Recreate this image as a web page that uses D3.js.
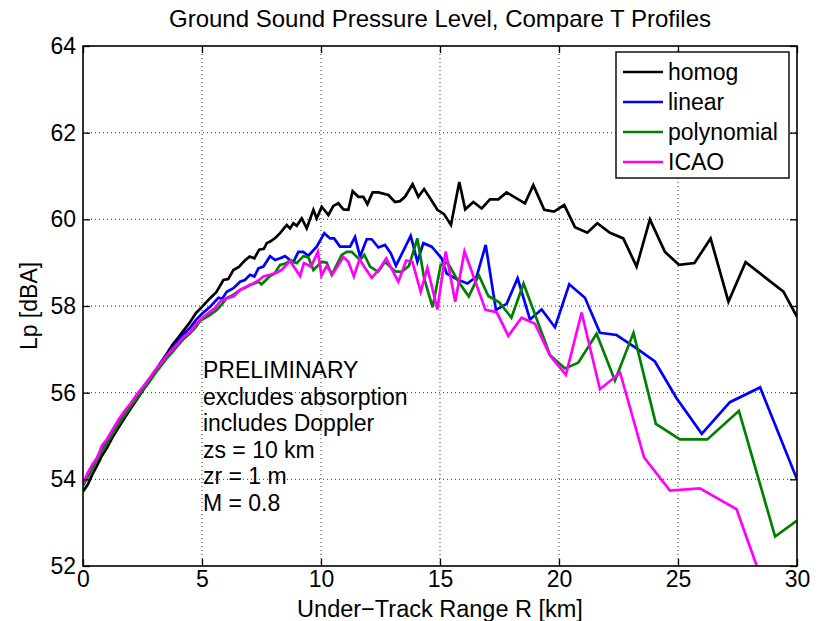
<!DOCTYPE html>
<html>
<head>
<meta charset="utf-8">
<script src="https://cdn.jsdelivr.net/npm/d3@7"></script>
<style>
  body { margin: 0; background: #fff; }
  svg { display: block; }
  text { font-family: "Liberation Sans", Arial, Helvetica, sans-serif; fill: #000; }
</style>
</head>
<body>
<svg id="chart" width="819" height="621"></svg>
<script>
// Under-track range R [km] and ground level Lp [dBA] for each temperature profile
const homogR = [0, 0.2, 0.4, 0.6, 0.8, 1.0, 1.25, 1.5, 1.75, 2.0, 2.25, 2.5, 2.75, 3.0, 3.25, 3.5, 3.75, 4.0, 4.25, 4.5, 4.75, 5.0, 5.34, 5.6, 5.9, 6.1, 6.32, 6.55, 6.8, 7.0, 7.2, 7.4, 7.6, 7.72, 7.9, 8.1, 8.28, 8.56, 8.70, 8.84, 8.98, 9.19, 9.40, 9.68, 9.82, 10.03, 10.31, 10.52, 10.73, 10.94, 11.15, 11.33, 11.57, 11.78, 11.95, 12.17, 12.41, 12.83, 13.11, 13.32, 13.53, 13.85, 14.09, 14.33, 14.58, 14.89, 15.17, 15.46, 15.81, 16.06, 16.40, 16.75, 17.10, 17.45, 17.80, 18.57, 18.92, 19.38, 19.79, 20.22, 20.67, 21.19, 21.61, 22.14, 22.70, 23.26, 23.82, 24.45, 25.04, 25.69, 26.37, 27.12, 27.84, 29.43, 30];
const homogLp = [53.72, 53.88, 54.12, 54.33, 54.55, 54.72, 54.98, 55.2, 55.42, 55.63, 55.83, 56.04, 56.24, 56.47, 56.68, 56.88, 57.1, 57.27, 57.45, 57.63, 57.84, 57.98, 58.18, 58.32, 58.6, 58.62, 58.83, 58.9, 59.05, 59.14, 59.1, 59.3, 59.32, 59.45, 59.5, 59.58, 59.68, 59.87, 59.79, 59.91, 59.85, 60.02, 59.79, 60.22, 60.02, 60.29, 60.10, 60.31, 60.37, 60.23, 60.22, 60.65, 60.52, 60.52, 60.35, 60.62, 60.62, 60.56, 60.40, 60.42, 60.52, 60.81, 60.52, 60.70, 60.49, 60.22, 60.12, 59.87, 60.86, 60.23, 60.40, 60.25, 60.46, 60.46, 60.62, 60.37, 60.79, 60.22, 60.18, 60.33, 59.82, 59.69, 59.91, 59.69, 59.56, 58.91, 60.00, 59.25, 58.95, 58.99, 59.56, 58.10, 59.01, 58.33, 57.75];

const linearR = [0, 0.2, 0.4, 0.6, 0.8, 1.0, 1.25, 1.5, 1.75, 2.0, 2.25, 2.5, 2.75, 3.0, 3.25, 3.5, 3.75, 4.0, 4.25, 4.5, 4.75, 5.0, 5.34, 5.69, 5.85, 6.04, 6.32, 6.6, 6.8, 7.02, 7.2, 7.37, 7.58, 7.86, 8.07, 8.28, 8.49, 8.70, 8.84, 9.05, 9.25, 9.47, 9.82, 10.14, 10.38, 10.55, 10.8, 11.22, 11.43, 11.64, 11.92, 12.13, 12.41, 12.69, 12.93, 13.15, 13.77, 14.05, 14.30, 14.65, 15.07, 15.28, 15.70, 16.15, 16.54, 16.92, 17.35, 17.80, 18.26, 18.78, 19.27, 19.83, 20.43, 21.09, 21.72, 22.42, 23.26, 24.03, 24.94, 26.0, 27.18, 28.45, 30];
const linearLp = [53.9, 54.1, 54.3, 54.5, 54.72, 54.9, 55.12, 55.33, 55.53, 55.72, 55.9, 56.1, 56.28, 56.47, 56.66, 56.85, 57.02, 57.2, 57.36, 57.5, 57.68, 57.82, 57.98, 58.19, 58.17, 58.33, 58.41, 58.56, 58.6, 58.72, 58.68, 58.87, 58.91, 59.15, 59.06, 59.10, 59.15, 59.06, 59.02, 59.25, 59.25, 59.16, 59.37, 59.68, 59.56, 59.56, 59.37, 59.37, 59.59, 59.14, 59.54, 59.54, 59.35, 59.41, 59.22, 58.93, 59.62, 59.02, 59.45, 59.37, 59.10, 58.75, 58.62, 58.52, 58.68, 59.41, 57.91, 58.05, 58.64, 57.69, 57.92, 57.51, 58.50, 58.19, 57.38, 57.33, 57.02, 56.72, 55.87, 55.05, 55.78, 56.12, 54.0];

const polyR = [0, 0.2, 0.4, 0.6, 0.8, 1.0, 1.25, 1.5, 1.75, 2.0, 2.25, 2.5, 2.75, 3.0, 3.25, 3.5, 3.75, 4.0, 4.25, 4.5, 4.75, 4.92, 5.3, 5.62, 5.85, 6.04, 6.3, 6.6, 6.8, 7.02, 7.2, 7.37, 7.5, 7.86, 8.05, 8.28, 8.50, 8.70, 8.98, 9.26, 9.47, 9.68, 10.03, 10.24, 10.45, 10.87, 11.08, 11.29, 11.64, 11.82, 12.06, 12.40, 12.69, 13.11, 13.39, 13.70, 14.05, 14.33, 14.69, 15.03, 15.32, 15.80, 16.21, 16.63, 17.03, 17.50, 18.00, 18.51, 19.62, 20.25, 20.81, 21.58, 22.35, 23.13, 24.07, 25.08, 26.23, 27.56, 29.08, 30];
const polyLp = [53.85, 54.05, 54.25, 54.45, 54.65, 54.83, 55.05, 55.28, 55.48, 55.68, 55.86, 56.05, 56.22, 56.42, 56.6, 56.78, 56.93, 57.1, 57.25, 57.37, 57.52, 57.66, 57.78, 57.91, 58.05, 58.18, 58.25, 58.37, 58.42, 58.49, 58.52, 58.56, 58.5, 58.69, 58.75, 58.95, 58.98, 59.05, 58.99, 59.15, 59.12, 58.83, 59.02, 59.0, 58.72, 59.18, 59.25, 59.25, 59.06, 59.18, 58.91, 58.79, 59.02, 58.80, 58.79, 58.93, 59.56, 58.65, 57.97, 58.95, 59.00, 58.54, 58.22, 58.71, 58.23, 58.08, 57.73, 58.52, 56.87, 56.56, 56.69, 57.36, 56.28, 57.38, 55.28, 54.92, 54.92, 55.58, 52.68, 53.05];

const icaoR = [0, 0.2, 0.4, 0.6, 0.8, 1.0, 1.25, 1.5, 1.75, 2.0, 2.25, 2.5, 2.75, 3.0, 3.25, 3.5, 3.75, 4.0, 4.25, 4.5, 4.75, 5.0, 5.34, 5.55, 5.76, 6.04, 6.32, 6.6, 6.9, 7.16, 7.4, 7.58, 7.86, 8.10, 8.35, 8.70, 9.12, 9.28, 9.58, 9.87, 10.02, 10.24, 10.48, 10.94, 11.15, 11.38, 11.62, 11.81, 12.13, 12.45, 12.74, 13.25, 13.58, 13.84, 14.19, 14.47, 14.89, 15.24, 15.64, 16.03, 16.91, 17.38, 17.87, 18.43, 18.99, 19.62, 20.29, 20.95, 21.72, 22.57, 23.57, 24.66, 25.92, 27.46, 28.7];
const icaoLp = [53.9, 54.15, 54.35, 54.5, 54.78, 54.92, 55.15, 55.38, 55.58, 55.75, 55.95, 56.12, 56.3, 56.5, 56.66, 56.84, 57.0, 57.14, 57.3, 57.4, 57.58, 57.72, 57.87, 57.95, 58.10, 58.18, 58.22, 58.37, 58.45, 58.52, 58.6, 58.68, 58.72, 58.76, 58.83, 59.04, 58.69, 58.99, 58.91, 59.25, 58.70, 58.92, 58.73, 59.13, 59.02, 58.68, 59.08, 58.91, 58.65, 58.85, 59.10, 58.56, 59.05, 59.02, 58.33, 58.88, 57.92, 59.26, 58.10, 59.26, 57.91, 57.86, 57.31, 57.73, 57.59, 56.86, 56.41, 57.85, 56.08, 56.46, 54.51, 53.74, 53.79, 53.31, 51.4];

const seriesNames = ["homog", "linear", "polynomial", "ICAO"];
const seriesColors = ["#000000", "#0000ff", "#008000", "#ff00ff"];
const xTicks = [0, 5, 10, 15, 20, 25, 30];
const yTicks = [52, 54, 56, 58, 60, 62, 64];
const noteLines = ["PRELIMINARY", "excludes absorption", "includes Doppler", "zs = 10 km", "zr = 1 m", "M = 0.8"];

const titleText = "Ground Sound Pressure Level, Compare T Profiles";
const xLabel = "Under\u2212Track Range R [km]";
const yLabel = "Lp [dBA]";

const series = [
  { name: seriesNames[0], color: seriesColors[0], R: homogR, Lp: homogLp },
  { name: seriesNames[1], color: seriesColors[1], R: linearR, Lp: linearLp },
  { name: seriesNames[2], color: seriesColors[2], R: polyR, Lp: polyLp },
  { name: seriesNames[3], color: seriesColors[3], R: icaoR, Lp: icaoLp }
];

const W = 819, H = 621;
const plot = { left: 83, right: 797, top: 46, bottom: 566 };
const FS = 23;

const svg = d3.select("#chart");
svg.append("rect").attr("width", W).attr("height", H).attr("fill", "#fff");

const x = d3.scaleLinear().domain([0, 30]).range([plot.left, plot.right]);
const y = d3.scaleLinear().domain([52, 64]).range([plot.bottom, plot.top]);

svg.append("defs").append("clipPath").attr("id", "plotClip")
  .append("rect")
  .attr("x", plot.left).attr("y", plot.top)
  .attr("width", plot.right - plot.left).attr("height", plot.bottom - plot.top);

// dotted grid
const grid = svg.append("g").attr("stroke", "#333").attr("stroke-width", 1)
  .attr("stroke-dasharray", "1,3");
grid.selectAll("line.gx").data(xTicks.slice(1, -1)).join("line")
  .attr("x1", d => x(d)).attr("x2", d => x(d))
  .attr("y1", plot.top).attr("y2", plot.bottom);
grid.selectAll("line.gy").data(yTicks.slice(1, -1)).join("line")
  .attr("y1", d => y(d)).attr("y2", d => y(d))
  .attr("x1", plot.left).attr("x2", plot.right);

// data lines
const line = d3.line().x(d => x(d[0])).y(d => y(d[1]));
const lines = svg.append("g").attr("clip-path", "url(#plotClip)");
series.forEach(s => {
  lines.append("path")
    .datum(s.R.map((r, i) => [r, s.Lp[i]]))
    .attr("d", line)
    .attr("fill", "none")
    .attr("stroke", s.color)
    .attr("stroke-width", 2.7)
    .attr("stroke-linejoin", "miter");
});

// axes with inward ticks on all four sides
function styleAxis(g) {
  g.select(".domain").remove();
  g.selectAll(".tick line").attr("stroke", "#000").attr("stroke-width", 1.3);
  g.selectAll("text").style("font-size", FS + "px").attr("fill", "#000");
}
svg.append("g").attr("transform", `translate(0,${plot.bottom})`)
  .call(d3.axisBottom(x).tickValues(xTicks).tickSizeInner(-7).tickSizeOuter(0).tickPadding(5))
  .call(styleAxis);
svg.append("g").attr("transform", `translate(${plot.left},0)`)
  .call(d3.axisLeft(y).tickValues(yTicks).tickSizeInner(-7).tickSizeOuter(0).tickPadding(7))
  .call(styleAxis);
svg.append("g").attr("transform", `translate(0,${plot.top})`)
  .call(d3.axisTop(x).tickValues(xTicks).tickSizeInner(-7).tickSizeOuter(0).tickFormat(""))
  .call(styleAxis);
svg.append("g").attr("transform", `translate(${plot.right},0)`)
  .call(d3.axisRight(y).tickValues(yTicks).tickSizeInner(-7).tickSizeOuter(0).tickFormat(""))
  .call(styleAxis);

svg.append("rect")
  .attr("x", plot.left).attr("y", plot.top)
  .attr("width", plot.right - plot.left).attr("height", plot.bottom - plot.top)
  .attr("fill", "none").attr("stroke", "#000").attr("stroke-width", 1.6);

// title and axis labels
svg.append("text").attr("x", (plot.left + plot.right) / 2).attr("y", 27)
  .attr("text-anchor", "middle").style("font-size", "24px").text(titleText);
svg.append("text").attr("x", (plot.left + plot.right) / 2).attr("y", 617)
  .attr("text-anchor", "middle").style("font-size", "23.5px").text(xLabel);
svg.append("text")
  .attr("transform", `translate(37,${(plot.top + plot.bottom) / 2}) rotate(-90)`)
  .attr("text-anchor", "middle").style("font-size", FS + "px").text(yLabel);

// annotation block
const note = svg.append("text").attr("x", x(5.04)).attr("y", 378).style("font-size", FS + "px");
noteLines.forEach((t, i) => {
  note.append("tspan").attr("x", x(5.04)).attr("y", 378 + i * 26.6).text(t);
});

// legend
const leg = svg.append("g");
const legBox = { x: 616, y: 52, w: 173, h: 126 };
leg.append("rect").attr("x", legBox.x).attr("y", legBox.y)
  .attr("width", legBox.w).attr("height", legBox.h)
  .attr("fill", "#fff").attr("stroke", "#000").attr("stroke-width", 1.4);
series.forEach((s, i) => {
  const cy = 72 + i * 30;
  leg.append("line").attr("x1", 623).attr("x2", 663).attr("y1", cy).attr("y2", cy)
    .attr("stroke", s.color).attr("stroke-width", 2.7);
  leg.append("text").attr("x", 668).attr("y", cy).attr("dy", "0.35em")
    .style("font-size", FS + "px").text(s.name);
});
</script>
</body>
</html>
